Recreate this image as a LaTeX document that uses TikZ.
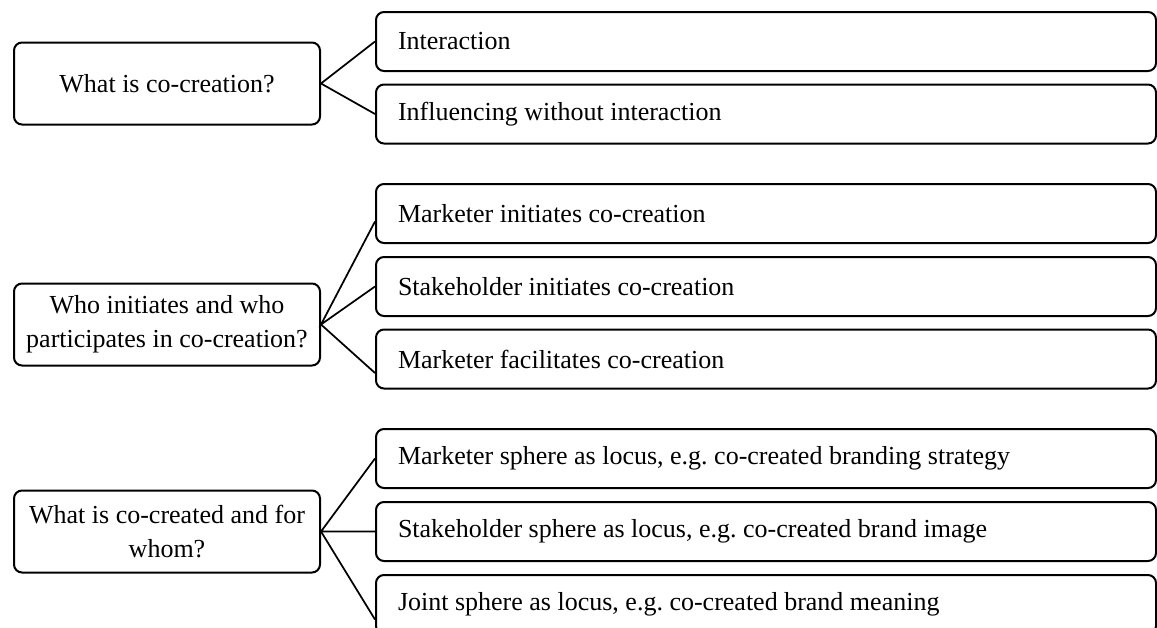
\documentclass[tikz,border=0pt]{standalone}
\usepackage{fontspec}
\setmainfont{Liberation Serif}
\usetikzlibrary{calc}
\frenchspacing

\tikzset{every picture/.style={line width=1.5pt}}
\tikzset{
	question/.style={draw, rounded corners=6pt, minimum width=229.5pt, minimum height=61.5pt, align=center, inner sep=0pt, font=\fontsize{19.5}{25.5}\selectfont},
	answer/.style={draw, rounded corners=6pt, minimum width=585pt, minimum height=44.25pt, text width=552pt, align=left, inner xsep=16.5pt, inner ysep=0pt, font=\fontsize{19.5}{25.5}\selectfont, execute at begin node={\spaceskip=0pt\xspaceskip=0pt\relax}},
	branch/.style={line width=1.3pt}
}

\begin{document}
\begin{tikzpicture}[x=0.75pt,y=0.75pt,yscale=-1,xscale=1]
	\path[use as bounding box] (0,0) rectangle (1157,628);

	% Questions
	\node[question] (q1) at (167,83.5) {What is co-creation?};
	\node[question] (q2) at (167,324.5) {Who initiates and who\\participates in co-creation?};
	\node[question] (q3) at (167,531.5) {What is co-created and for\\whom?};

	% Answers, first question
	\node[answer] (a1) at (766,41.5) {Interaction};
	\node[answer] (a2) at (766,114) {Influencing without interaction};
	% Answers, second question
	\node[answer] (b1) at (766,213.5) {Marketer initiates co-creation};
	\node[answer] (b2) at (766,286.5) {Stakeholder initiates co-creation};
	\node[answer] (b3) at (766,359) {Marketer facilitates co-creation};
	% Answers, third question
	\node[answer] (c1) at (766,458.5) {Marketer sphere as locus, e.g. co-created branding strategy};
	\node[answer] (c2) at (766,531.5) {Stakeholder sphere as locus, e.g. co-created brand image};
	\node[answer] (c3) at (766,604.5) {Joint sphere as locus, e.g. co-created brand meaning};

	% Branches
	\draw[branch] (a1.west) -- (q1.east) -- (a2.west);
	\draw[branch] ($(b1.west)+(0,8)$) -- (q2.east) -- (b2.west);
	\draw[branch] (q2.east) -- ($(b3.west)+(0,14)$);
	\draw[branch] (c1.west) -- (q3.east) -- (c2.west);
	\draw[branch] (q3.east) -- ($(c3.west)+(0,15)$);

\end{tikzpicture}
\end{document}
